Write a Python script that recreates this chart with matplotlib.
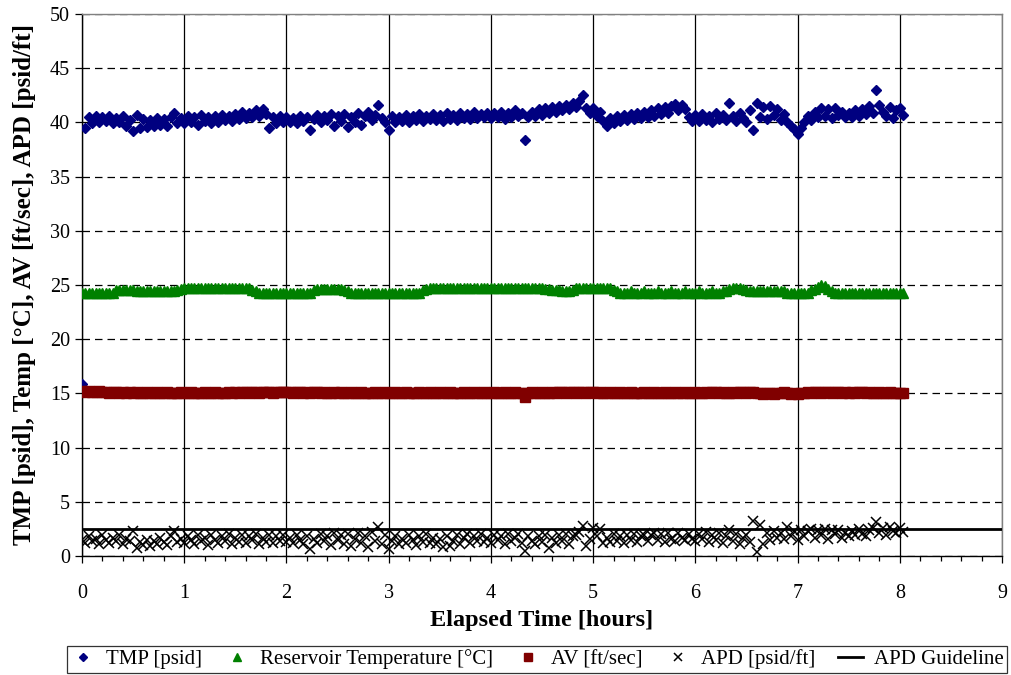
import numpy as np
import matplotlib
matplotlib.use("Agg")
import matplotlib.pyplot as plt
from matplotlib.ticker import MultipleLocator

plt.rcParams['font.family'] = ['Liberation Serif', 'DejaVu Serif']

# one reading every 2 minutes
sample_minutes = 2

tmp_psid = [
    15.9, 39.5, 40.5, 39.9, 40.6, 40.0, 40.5, 40.1, 40.6, 39.9, 40.4, 40.0, 40.6, 39.7, 40.2,
    39.2, 40.7, 39.5, 40.3, 39.6, 40.2, 39.7, 40.4, 39.8, 40.3, 39.7, 40.5, 40.9, 39.9, 40.4,
    39.9, 40.6, 40.0, 40.5, 39.8, 40.7, 40.1, 40.5, 39.9, 40.6, 40.0, 40.7, 40.2, 40.6, 40.1,
    40.8, 40.3, 41.0, 40.4, 40.9, 40.5, 41.1, 40.6, 41.2, 40.8, 39.5, 40.5, 39.9, 40.6, 40.0,
    40.5, 40.0, 40.4, 39.9, 40.6, 40.1, 40.5, 39.3, 40.3, 40.7, 40.0, 40.6, 40.2, 40.8, 39.7,
    40.6, 40.1, 40.8, 39.6, 40.5, 40.0, 40.9, 39.8, 40.6, 41.0, 40.2, 40.7, 41.6, 40.4, 40.0,
    39.3, 40.6, 40.0, 40.5, 40.1, 40.7, 40.0, 40.6, 40.2, 40.8, 40.1, 40.6, 40.3, 40.8, 40.2,
    40.7, 40.1, 40.9, 40.3, 40.7, 40.2, 40.9, 40.4, 40.8, 40.3, 41.0, 40.4, 40.8, 40.5, 40.9,
    40.4, 40.9, 40.5, 41.0, 40.3, 40.9, 40.5, 41.1, 40.6, 40.9, 38.4, 40.5, 41.0, 40.6, 41.2,
    40.7, 41.3, 40.9, 41.4, 41.0, 41.5, 41.1, 41.6, 41.2, 41.8, 41.4, 42.0, 42.5, 41.3, 40.9,
    41.3, 40.6, 41.0, 40.1, 39.7, 40.4, 39.9, 40.6, 40.1, 40.7, 40.2, 40.8, 40.3, 40.9, 40.4,
    41.0, 40.5, 41.1, 40.6, 41.3, 40.8, 41.4, 40.9, 41.5, 41.7, 41.1, 41.6, 41.2, 40.5, 40.1,
    40.7, 40.1, 40.8, 40.2, 40.6, 40.0, 40.9, 40.3, 40.7, 40.2, 41.8, 40.6, 40.1, 40.9, 40.4,
    40.0, 41.1, 39.3, 41.8, 40.5, 41.4, 40.3, 41.5, 40.7, 41.2, 40.2, 40.8, 40.0, 39.7, 39.4,
    38.9, 39.5, 40.0, 40.6, 40.2, 41.0, 40.5, 41.3, 40.6, 41.2, 40.4, 41.3, 40.7, 41.0, 40.5,
    40.9, 40.5, 41.1, 40.6, 41.2, 40.8, 41.5, 40.9, 43.0, 41.6, 41.0, 40.6, 41.4, 40.4, 41.1,
    41.3, 40.7,
]

reservoir_temp_c = [
    24.3, 24.3, 24.3, 24.3, 24.3, 24.3, 24.3, 24.3, 24.3, 24.3, 24.5, 24.5, 24.5, 24.5, 24.5,
    24.5, 24.4, 24.4, 24.4, 24.4, 24.4, 24.4, 24.4, 24.4, 24.4, 24.4, 24.4, 24.4, 24.5, 24.6,
    24.7, 24.7, 24.7, 24.7, 24.7, 24.7, 24.7, 24.7, 24.7, 24.7, 24.7, 24.7, 24.7, 24.7, 24.7,
    24.7, 24.7, 24.7, 24.7, 24.7, 24.5, 24.4, 24.3, 24.3, 24.3, 24.3, 24.3, 24.3, 24.3, 24.3,
    24.3, 24.3, 24.3, 24.3, 24.3, 24.3, 24.3, 24.3, 24.5, 24.6, 24.6, 24.6, 24.6, 24.6, 24.6,
    24.6, 24.6, 24.5, 24.4, 24.3, 24.3, 24.3, 24.3, 24.3, 24.3, 24.3, 24.3, 24.3, 24.3, 24.3,
    24.3, 24.3, 24.3, 24.3, 24.3, 24.3, 24.3, 24.3, 24.3, 24.3, 24.5, 24.6, 24.7, 24.7, 24.7,
    24.7, 24.7, 24.7, 24.7, 24.7, 24.7, 24.7, 24.7, 24.7, 24.7, 24.7, 24.7, 24.7, 24.7, 24.7,
    24.7, 24.7, 24.7, 24.7, 24.7, 24.7, 24.7, 24.7, 24.7, 24.7, 24.7, 24.7, 24.7, 24.7, 24.7,
    24.7, 24.6, 24.6, 24.5, 24.5, 24.5, 24.4, 24.4, 24.4, 24.5, 24.7, 24.7, 24.7, 24.7, 24.7,
    24.7, 24.7, 24.7, 24.7, 24.7, 24.7, 24.5, 24.4, 24.3, 24.3, 24.3, 24.4, 24.3, 24.3, 24.3,
    24.4, 24.3, 24.3, 24.3, 24.4, 24.3, 24.3, 24.3, 24.4, 24.3, 24.3, 24.3, 24.4, 24.3, 24.3,
    24.3, 24.4, 24.3, 24.3, 24.3, 24.4, 24.3, 24.3, 24.4, 24.4, 24.6, 24.7, 24.7, 24.7, 24.6,
    24.5, 24.4, 24.4, 24.4, 24.4, 24.4, 24.4, 24.4, 24.4, 24.4, 24.4, 24.4, 24.3, 24.3, 24.3,
    24.3, 24.3, 24.3, 24.3, 24.5, 24.6, 24.8, 25.0, 24.9, 24.6, 24.4, 24.3, 24.3, 24.3, 24.3,
    24.3, 24.3, 24.3, 24.3, 24.3, 24.3, 24.3, 24.3, 24.3, 24.3, 24.3, 24.3, 24.3, 24.3, 24.3,
    24.3, 24.3,
]

av_ft_sec = [
    15.2, 15.1, 15.2, 15.1, 15.1, 15.2, 15.1, 15.1, 15.0, 15.1, 15.1, 15.0, 15.1, 15.0, 15.1,
    15.0, 15.1, 15.0, 15.0, 15.1, 15.0, 15.0, 15.1, 15.0, 15.0, 15.1, 15.0, 15.0, 15.0, 15.1,
    15.0, 15.0, 15.1, 15.0, 15.0, 15.0, 15.1, 15.0, 15.0, 15.1, 15.0, 15.0, 15.0, 15.1, 15.0,
    15.1, 15.0, 15.1, 15.1, 15.0, 15.1, 15.1, 15.0, 15.1, 15.1, 15.1, 15.0, 15.1, 15.1, 15.1,
    15.1, 15.1, 15.0, 15.1, 15.1, 15.0, 15.1, 15.0, 15.1, 15.1, 15.0, 15.1, 15.0, 15.0, 15.1,
    15.0, 15.1, 15.0, 15.0, 15.1, 15.0, 15.0, 15.1, 15.0, 15.0, 15.0, 15.1, 15.0, 15.0, 15.1,
    15.0, 15.0, 15.1, 15.0, 15.0, 15.1, 15.0, 15.0, 15.0, 15.1, 15.0, 15.0, 15.1, 15.0, 15.0,
    15.1, 15.0, 15.0, 15.1, 15.0, 15.0, 15.0, 15.1, 15.0, 15.0, 15.1, 15.0, 15.0, 15.1, 15.0,
    15.0, 15.1, 15.0, 15.0, 15.1, 15.0, 15.0, 15.1, 15.0, 15.0, 14.7, 15.0, 15.1, 15.0, 15.0,
    15.1, 15.0, 15.0, 15.1, 15.0, 15.1, 15.1, 15.0, 15.1, 15.1, 15.0, 15.1, 15.1, 15.0, 15.1,
    15.1, 15.0, 15.1, 15.0, 15.0, 15.1, 15.0, 15.0, 15.1, 15.0, 15.0, 15.1, 15.0, 15.0, 15.0,
    15.1, 15.0, 15.0, 15.1, 15.0, 15.0, 15.1, 15.0, 15.0, 15.1, 15.0, 15.0, 15.1, 15.0, 15.0,
    15.1, 15.0, 15.0, 15.1, 15.0, 15.1, 15.1, 15.0, 15.1, 15.0, 15.0, 15.1, 15.0, 15.1, 15.1,
    15.0, 15.1, 15.1, 15.0, 15.0, 14.9, 15.0, 15.0, 14.9, 15.0, 15.0, 15.1, 15.0, 14.9, 15.0,
    14.9, 15.0, 15.0, 15.1, 15.0, 15.1, 15.1, 15.0, 15.1, 15.1, 15.0, 15.1, 15.1, 15.0, 15.1,
    15.0, 15.1, 15.0, 15.1, 15.1, 15.0, 15.1, 15.0, 15.0, 15.1, 15.0, 15.0, 15.1, 15.0, 15.0,
    15.0, 15.0,
]

apd_psid_ft = [
    1.5, 1.2, 1.8, 1.4, 1.6, 1.1, 1.9, 1.5, 1.2, 1.7, 1.4, 1.9, 1.1, 1.6, 1.4,
    2.3, 0.7, 1.3, 1.0, 1.5, 0.9, 1.4, 1.1, 1.7, 1.3, 1.0, 1.8, 2.3, 1.3, 1.6,
    1.2, 1.8, 1.5, 1.1, 1.9, 1.4, 1.7, 1.0, 1.9, 1.5, 1.2, 1.8, 1.4, 2.0, 1.1,
    1.7, 1.3, 1.9, 1.2, 1.8, 1.5, 2.0, 1.1, 1.7, 1.3, 1.9, 1.2, 1.8, 1.4, 1.9,
    1.3, 1.7, 1.2, 1.9, 1.5, 1.1, 1.8, 0.6, 1.6, 1.2, 2.0, 1.4, 1.8, 1.0, 2.1,
    1.5, 1.9, 1.1, 2.0, 0.9, 1.6, 2.1, 1.2, 1.8, 0.8, 2.2, 1.4, 2.7, 1.1, 1.9,
    0.6, 1.4, 1.8, 1.1, 1.6, 1.2, 1.9, 1.5, 1.0, 1.8, 1.3, 2.0, 1.2, 1.7, 1.1,
    1.6, 0.8, 1.8, 0.9, 1.4, 1.9, 1.1, 1.7, 2.0, 1.2, 1.8, 1.4, 2.0, 1.3, 1.7,
    1.2, 1.9, 1.5, 1.8, 1.1, 2.0, 1.4, 1.7, 2.0, 1.2, 0.5, 1.8, 1.4, 1.1, 1.8,
    1.3, 1.9, 0.7, 1.7, 1.2, 1.9, 1.4, 2.0, 1.1, 1.8, 1.9, 2.2, 2.8, 0.9, 1.6,
    2.6, 1.8, 2.5, 1.2, 1.7, 1.3, 2.0, 1.4, 1.8, 1.2, 1.9, 1.5, 2.0, 1.3, 1.8,
    1.9, 1.4, 1.9, 2.1, 1.5, 2.0, 1.3, 2.1, 1.6, 1.4, 2.1, 1.7, 1.5, 2.0, 1.6,
    1.4, 2.0, 1.6, 2.2, 1.3, 1.9, 1.5, 2.1, 1.2, 1.8, 2.4, 1.4, 2.0, 1.1, 1.7,
    1.9, 1.3, 3.2, 0.4, 2.9, 1.1, 2.1, 1.5, 2.3, 1.7, 2.1, 1.6, 2.7, 1.8, 2.3,
    1.5, 2.4, 1.8, 2.3, 2.5, 1.7, 2.4, 1.9, 2.5, 1.6, 2.4, 2.0, 2.4, 1.7, 2.1,
    1.8, 2.3, 1.9, 2.5, 2.0, 1.8, 2.4, 2.6, 3.1, 2.1, 2.6, 1.9, 2.7, 2.3, 2.1,
    2.6, 2.2,
]

guideline_hours = [0, 9]
guideline_apd = [2.5, 2.5]

elapsed_hours = np.arange(len(tmp_psid)) * sample_minutes / 60.0

fig = plt.figure(figsize=(10.11, 6.75), dpi=100, facecolor='white')
ax = fig.add_axes([0.0811, 0.1763, 0.9100, 0.8030])

ax.plot(elapsed_hours, tmp_psid, linestyle='none', marker='D', ms=5.2,
        color='#000080', mec='#000080', label='TMP [psid]', zorder=3)
ax.plot(elapsed_hours, reservoir_temp_c, linestyle='none', marker='^', ms=7.5,
        color='#008000', mec='#008000', label='Reservoir Temperature [°C]', zorder=3)
ax.plot(elapsed_hours, av_ft_sec, linestyle='none', marker='s', ms=7,
        color='#800000', mec='#800000', label='AV [ft/sec]', zorder=3)
ax.plot(elapsed_hours, apd_psid_ft, linestyle='none', marker='x', ms=7.5, mew=1.1,
        color='black', label='APD [psid/ft]', zorder=3)
ax.plot(guideline_hours, guideline_apd, color='black', lw=2, label='APD Guideline',
        zorder=4)

ax.set_xlim(0, 9)
ax.set_ylim(0, 50)
ax.xaxis.set_major_locator(MultipleLocator(1))
ax.xaxis.set_minor_locator(MultipleLocator(0.2))
ax.yaxis.set_major_locator(MultipleLocator(5))

# solid verticals at each hour, dashed horizontals every 5 units
ax.grid(axis='x', which='major', color='black', lw=0.9, linestyle='-')
ax.grid(axis='y', which='major', color='black', lw=0.9, linestyle=(0, (6, 4)))
ax.set_axisbelow(True)

ax.tick_params(axis='both', which='major', direction='out', length=5, width=0.9,
               labelsize=14.5, color='black')
ax.tick_params(axis='x', which='minor', direction='out', length=3.5, width=0.9)
ax.tick_params(axis='x', pad=15)

for side in ['left', 'bottom']:
    ax.spines[side].set_color('black')
    ax.spines[side].set_linewidth(1.0)
for side in ['top', 'right']:
    ax.spines[side].set_color('#808080')
    ax.spines[side].set_linewidth(1.0)

ax.set_xlabel('Elapsed Time [hours]', fontsize=17.5, fontweight='bold', labelpad=5)
ax.set_ylabel('TMP [psid], Temp [°C], AV [ft/sec], APD [psid/ft]', fontsize=18,
              fontweight='bold', labelpad=10)

leg = fig.legend(loc='center', bbox_to_anchor=(0.531, 0.0230), ncol=5,
                 fontsize=15, frameon=True, fancybox=False, edgecolor='black',
                 handlelength=1.2, handletextpad=0.5, columnspacing=1.1,
                 borderpad=0.15, markerscale=0.75)
leg.get_frame().set_linewidth(0.9)

fig.savefig('out.png', dpi=100)
plt.close(fig)
